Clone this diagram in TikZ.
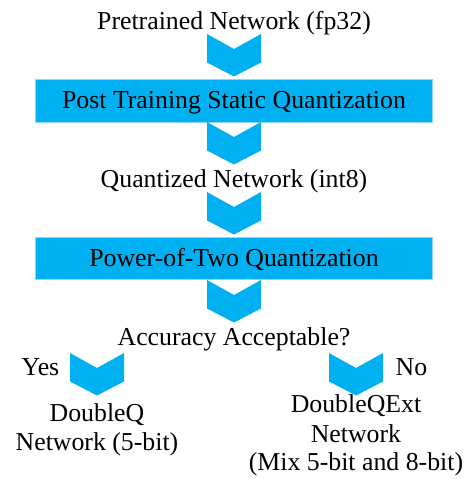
\documentclass[tikz,border=0pt]{standalone}
\usepackage{fontspec}
\setmainfont{Liberation Serif}
\definecolor{qblue}{HTML}{00B0F0}
\definecolor{qedge}{HTML}{8FD8F5}
\newcommand{\mychev}[2]{%
  \fill[qblue] ({#1-27},#2) -- (#1,{#2+15}) -- ({#1+27},#2) -- ({#1+27},{#2+28.5}) -- (#1,{#2+42.5}) -- ({#1-27},{#2+28.5}) -- cycle;}
\begin{document}
\begin{tikzpicture}[x=1pt,y=-1pt,
  lbl/.style={inner sep=0pt,anchor=base,font=\fontsize{25.8}{31}\selectfont},
  stagebox/.style={fill=qblue,draw=qedge,line width=0.6pt}]
\useasboundingbox (0,0) rectangle (469,479);
% boxes
\path[stagebox] (35.5,79) rectangle (432,122);
\path[stagebox] (35.5,237) rectangle (432,279);
% chevrons
\mychev{234}{34}
\mychev{234}{122}
\mychev{234}{192}
\mychev{234}{280}
\mychev{97}{353}
\mychev{356}{353}
% texts
\node[lbl] (pre) at (234,29) {Pretrained Network (fp32)};
\node[lbl] (ptq) at (234,108) {Post Training Static Quantization};
\node[lbl] (qnet) at (234,187) {Quantized Network (int8)};
\node[lbl] (pot) at (234,266) {Power-of-Two Quantization};
\node[lbl] (acc) at (234,345) {Accuracy Acceptable?};
\node[lbl] (yes) at (40.5,375) {Yes};
\node[lbl] (no) at (411.5,375) {No};
\node[lbl] (dq1) at (97,421) {DoubleQ};
\node[lbl] (dq2) at (97,450) {Network (5-bit)};
\node[lbl] (dqe1) at (356,412) {DoubleQExt};
\node[lbl] (dqe2) at (356,442) {Network};
\node[lbl] (dqe3) at (356,470) {(Mix 5-bit and 8-bit)};
\end{tikzpicture}
\end{document}
